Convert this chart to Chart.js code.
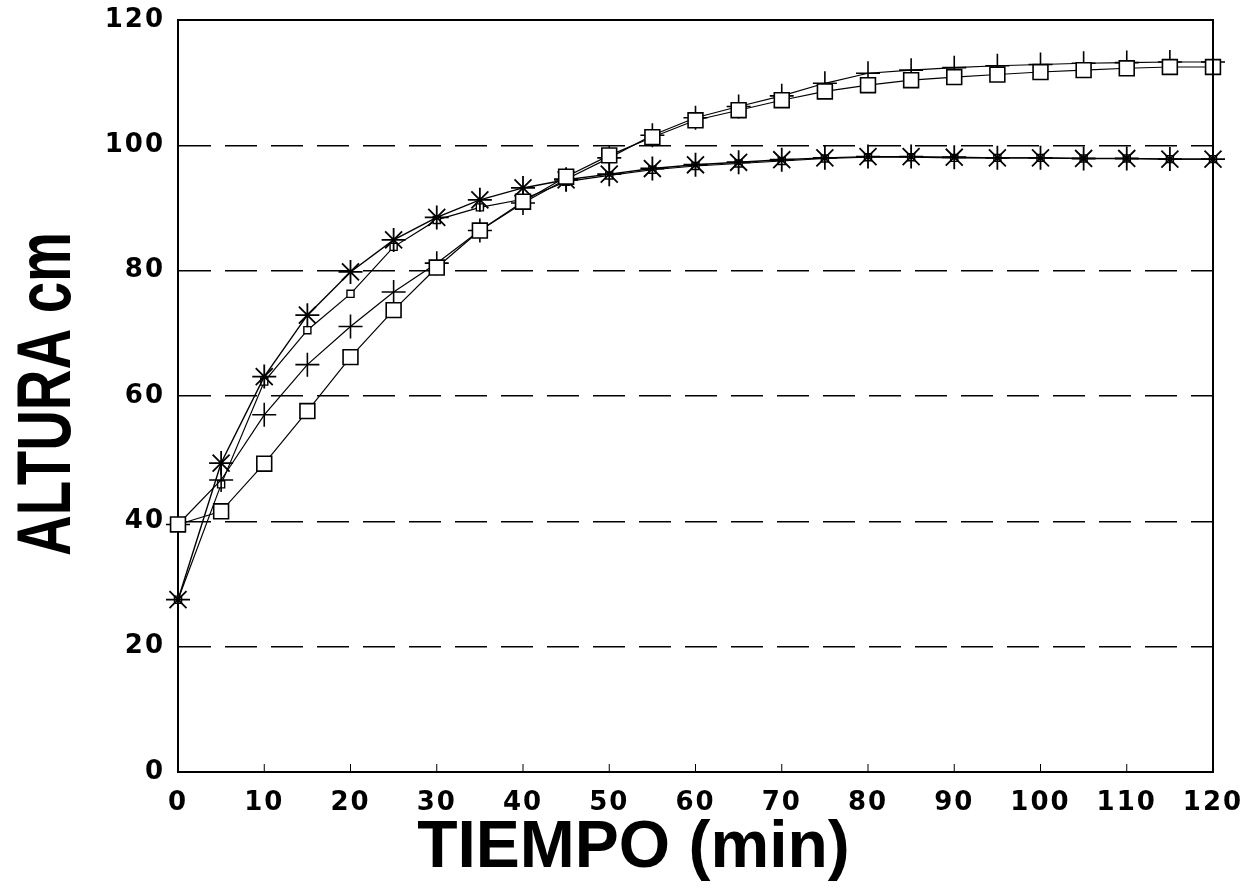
<!DOCTYPE html>
<html>
<head>
<meta charset="utf-8">
<script src="https://cdn.jsdelivr.net/npm/chart.js@4"></script>
<style>
  html, body { margin: 0; padding: 0; background: #fff; }
  #wrap { width: 1255px; height: 896px; }
</style>
</head>
<body>
<div id="wrap"><canvas id="c" width="1255" height="896"></canvas></div>
<script>
// ---- data ----
const tiempo = [0,5,10,15,20,25,30,35,40,45,50,55,60,65,70,75,80,85,90,95,100,105,110,115,120];
const serieCuadrado = [39.5,41.6,49.2,57.6,66.2,73.7,80.5,86.4,91.0,95.0,98.4,101.3,104.0,105.6,107.2,108.6,109.6,110.4,110.9,111.3,111.7,112.0,112.3,112.5,112.5];
const serieCruz     = [39.5,46.6,57.0,65.0,71.1,76.6,81.2,86.4,90.8,94.6,98.0,101.6,104.4,106.2,107.9,109.9,111.5,112.0,112.4,112.7,112.9,113.1,113.2,113.3,113.3];
const serieEstrella = [27.5,49.3,63.1,72.9,79.8,84.9,88.5,91.3,93.2,94.5,95.4,96.3,96.9,97.3,97.7,98.0,98.2,98.2,98.1,98.0,98.0,97.9,97.9,97.8,97.8];
const serieCuadroChico = [27.5,45.9,62.3,70.5,76.3,83.8,88.1,90.1,91.4,94.2,95.2,96.1,96.7,97.1,97.5,97.9,98.1,98.1,98.0,98.0,98.0,97.9,97.9,97.8,97.8];
const xTicks = [0,10,20,30,40,50,60,70,80,90,100,110,120];
const yTicks = [0,20,40,60,80,100,120];
const xTitle = 'TIEMPO (min)';
const yTitle = 'ALTURA cm';

const pts = arr => tiempo.map((t, i) => ({ x: t, y: arr[i] }));

function ds(label, arr, style, radius, bw, lw) {
  return {
    label, data: pts(arr), showLine: true, clip: false,
    borderColor: '#000', borderWidth: lw, tension: 0,
    pointStyle: style, pointRadius: radius, pointHoverRadius: radius,
    pointBorderColor: '#000', pointBackgroundColor: '#fff', pointBorderWidth: bw
  };
}

const tickFont = { family: "'DejaVu Sans', sans-serif", weight: 'bold', size: 26 };

// tick label spacing and title placement tweaks
const stylePlugin = {
  id: 'styleTweaks',
  beforeDraw(chart) {
    const xs = chart.scales.x, ys = chart.scales.y;
    if (xs && !xs._patched) {
      const oL = xs.drawLabels, oT = xs.drawTitle;
      xs.drawLabels = function (a) { const c = this.ctx; c.save(); try { c.letterSpacing = '2px'; } catch (e) {} oL.call(this, a); c.restore(); };
      xs.drawTitle = function () { const c = this.ctx; c.save(); c.translate(-62, 0); oT.call(this); c.restore(); };
      xs._patched = true;
    }
    if (ys && !ys._patched) {
      const oL = ys.drawLabels, oT = ys.drawTitle;
      ys.drawLabels = function (a) { const c = this.ctx; c.save(); try { c.letterSpacing = '2px'; } catch (e) {} oL.call(this, a); c.restore(); };
      ys.drawTitle = function () {
        const c = this.ctx; const cy = 394;
        c.save(); c.translate(0, cy); c.scale(1, 0.74); c.translate(0, -(this.top + this.bottom) / 2);
        oT.call(this); c.restore();
      };
      ys._patched = true;
    }
  }
};

const framePlugin = {
  id: 'frame',
  afterDraw(chart) {
    const { ctx, chartArea: a } = chart;
    ctx.save();
    ctx.strokeStyle = '#000';
    ctx.lineWidth = 2;
    ctx.beginPath();
    ctx.moveTo(a.left, a.top); ctx.lineTo(a.right, a.top); ctx.lineTo(a.right, a.bottom);
    ctx.stroke();
    const xs = chart.scales.x;
    ctx.lineWidth = 1;
    xTicks.forEach(v => {
      const px = xs.getPixelForValue(v);
      ctx.beginPath(); ctx.moveTo(px, a.bottom); ctx.lineTo(px, a.bottom - 8); ctx.stroke();
    });
    ctx.restore();
  }
};

new Chart(document.getElementById('c'), {
  type: 'line',
  data: {
    datasets: [
      ds('cuadrado', serieCuadrado, 'rect', 10.5, 1.6, 1.2),
      ds('cruz', serieCruz, 'cross', 12, 1.6, 1.2),
      ds('estrella', serieEstrella, 'star', 12, 1.8, 1.4),
      ds('cuadro chico', serieCuadroChico, 'rect', 5, 1.4, 1.2)
    ]
  },
  options: {
    responsive: false,
    animation: false,
    events: [],
    layout: { padding: { top: 20, right: 42, left: 0, bottom: 0 } },
    plugins: { legend: { display: false }, tooltip: { enabled: false } },
    scales: {
      x: {
        type: 'linear', min: 0, max: 120,
        afterFit: s => { s.height = 124; s.paddingLeft = 0; s.paddingRight = 0; },
        afterBuildTicks: s => { s.ticks = xTicks.map(v => ({ value: v })); },
        ticks: { color: '#000', font: tickFont, padding: 16, maxRotation: 0, autoSkip: false },
        grid: { display: false, drawTicks: false },
        border: { display: true, color: '#000', width: 2 },
        title: { display: true, text: xTitle, color: '#000',
                 font: { family: "'Liberation Sans', Arial, sans-serif", weight: 'bold', size: 66, lineHeight: 1 },
                 padding: { top: 0, bottom: 14 } }
      },
      y: {
        type: 'linear', min: 0, max: 120,
        afterFit: s => { s.width = 178; s.paddingTop = 0; s.paddingBottom = 0; },
        afterBuildTicks: s => { s.ticks = yTicks.map(v => ({ value: v })); },
        ticks: { color: '#000', font: tickFont, padding: 13 },
        grid: {
          drawTicks: false,
          color: c => (c.tick && (c.tick.value === 0 || c.tick.value === 120)) ? 'rgba(0,0,0,0)' : '#000',
          lineWidth: 1.4
        },
        border: { display: true, color: '#000', width: 2, dash: [32, 14] },
        title: { display: true, text: yTitle, color: '#000',
                 font: { family: "'Liberation Sans', Arial, sans-serif", weight: 'bold', size: 76, lineHeight: 1 },
                 padding: { top: 11, bottom: 0 } }
      }
    }
  },
  plugins: [stylePlugin, framePlugin]
});
</script>
</body>
</html>
